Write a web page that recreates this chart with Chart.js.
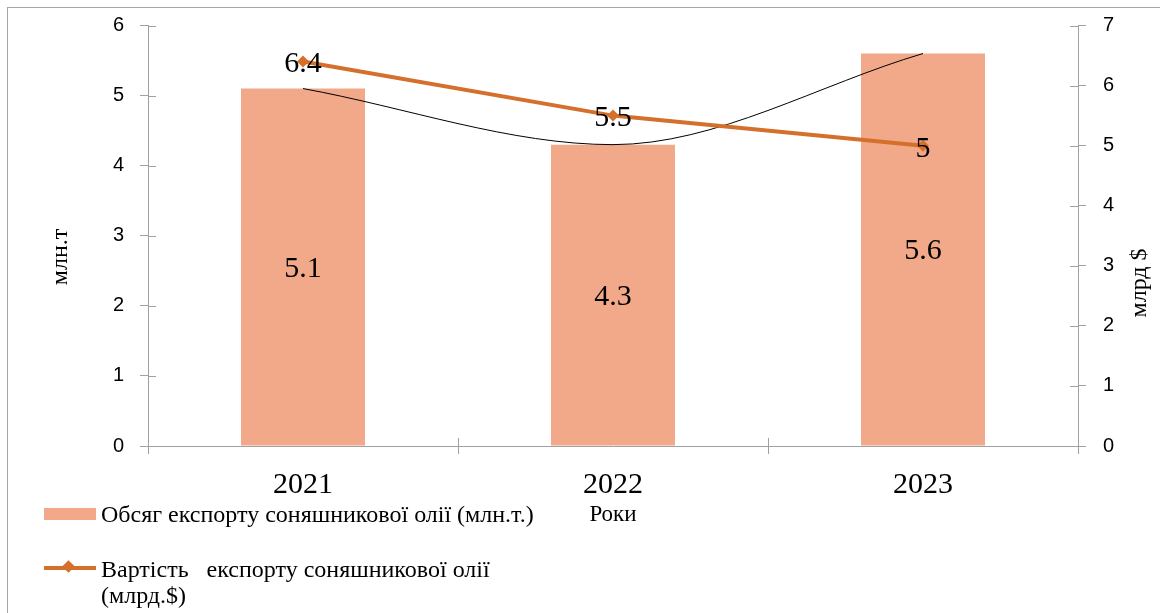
<!DOCTYPE html>
<html>
<head>
<meta charset="utf-8">
<script src="https://cdn.jsdelivr.net/npm/chart.js@4.4.1/dist/chart.umd.min.js"></script>
<style>
  html, body { margin: 0; padding: 0; background: #fff; }
  #wrap { position: relative; width: 1160px; height: 613px; overflow: hidden; }
  #frame { position: absolute; left: 7px; top: 7px; width: 1200px; height: 700px; border: 1.5px solid #A6A6A6; box-sizing: border-box; }
  canvas { position: absolute; left: 0; top: 0; }
  #legend { position: absolute; left: 0; top: 0; font-family: "Liberation Serif", "Times New Roman", serif; font-size: 24px; color: #000; }
  .item { position: absolute; left: 44px; }
  .txt { position: absolute; left: 57px; white-space: pre-wrap; line-height: 26px; }
</style>
</head>
<body>
<div id="wrap">
  <div id="frame"></div>
  <canvas id="c" width="1160" height="613"></canvas>
  <div id="legend"></div>
</div>
<script>
const years = ['2021', '2022', '2023'];
const volume = [5.1, 4.3, 5.6];          // млн.т
const value = [6.4, 5.5, 5];             // млрд $
const leftTicks = [0, 1, 2, 3, 4, 5, 6];
const rightTicks = [0, 1, 2, 3, 4, 5, 6, 7];
const volumeLabel = 'Обсяг експорту соняшникової олії (млн.т.)';
const valueLabel = 'Вартість   експорту соняшникової олії (млрд.$)';
const xTitle = 'Роки';
const yTitle = 'млн.т';
const y1Title = 'млрд $';

const BAR = '#F1A98A';
const LINE = '#D4702C';
const AXIS = '#A0A0A0';
const SERIF = '"Liberation Serif", "Times New Roman", serif';
const SANS = '"Liberation Sans", Arial, sans-serif';

const labelsPlugin = {
  id: 'valueLabels',
  beforeDatasetsDraw(chart) {
    // inner half of the crossing tick marks
    const ctx = chart.ctx;
    ctx.save();
    ctx.strokeStyle = AXIS;
    ctx.lineWidth = 1;
    const y = chart.scales.y, y1 = chart.scales.y1, x = chart.scales.x;
    ctx.beginPath();
    y.ticks.forEach(t => { const p = Math.round(y.getPixelForValue(t.value)) + 0.5; ctx.moveTo(y.right, p); ctx.lineTo(y.right + 8, p); });
    y1.ticks.forEach(t => { const p = Math.round(y1.getPixelForValue(t.value)) + 0.5; ctx.moveTo(y1.left, p); ctx.lineTo(y1.left - 8, p); });
    for (let i = 0; i <= years.length; i++) {
      const p = Math.round(x.getPixelForTick(0) + (i - 0.5) * (x.getPixelForTick(1) - x.getPixelForTick(0))) + 0.5;
      ctx.moveTo(p, x.top); ctx.lineTo(p, x.top - 8);
    }
    ctx.stroke();

    // vertical axis titles (both read bottom-to-top)
    ctx.fillStyle = '#000';
    ctx.font = '24px ' + SERIF;
    ctx.textAlign = 'center';
    ctx.textBaseline = 'middle';
    ctx.save();
    ctx.translate(61, 257);
    ctx.rotate(-Math.PI / 2);
    ctx.fillText(yTitle, 0, 0);
    ctx.restore();
    ctx.save();
    ctx.translate(1140, 283);
    ctx.rotate(-Math.PI / 2);
    ctx.fillText(y1Title, 0, 0);
    ctx.restore();
    ctx.restore();
  },
  afterDatasetsDraw(chart) {
    const ctx = chart.ctx;
    ctx.save();
    ctx.fillStyle = '#000';
    ctx.font = '30px ' + SERIF;
    ctx.textAlign = 'center';
    ctx.textBaseline = 'middle';
    chart.getDatasetMeta(0).data.forEach((bar, i) => {
      ctx.fillText(String(volume[i]), bar.x, (bar.y + bar.base) / 2 + 2);
    });
    chart.getDatasetMeta(2).data.forEach((pt, i) => {
      ctx.fillText(String(value[i]), pt.x, pt.y + 3);
    });
    ctx.restore();
  }
};

const chart = new Chart(document.getElementById('c'), {
  type: 'bar',
  data: {
    labels: years,
    datasets: [
      {
        type: 'bar', label: volumeLabel, data: volume, yAxisID: 'y',
        backgroundColor: BAR, borderWidth: 0,
        barPercentage: 0.4, categoryPercentage: 1.0, order: 3
      },
      {
        type: 'line', label: 'trend', data: volume, yAxisID: 'y',
        borderColor: '#000', borderWidth: 1, cubicInterpolationMode: 'monotone',
        pointRadius: 0, fill: false, order: 2
      },
      {
        type: 'line', label: valueLabel, data: value, yAxisID: 'y1',
        borderColor: LINE, backgroundColor: LINE, borderWidth: 4,
        pointStyle: 'rectRot', pointRadius: 6, pointBorderWidth: 0,
        pointBackgroundColor: LINE, tension: 0, fill: false, order: 1
      }
    ]
  },
  options: {
    responsive: false,
    animation: false,
    layout: { padding: { top: 20, left: 0, right: 0, bottom: 77 } },
    plugins: { legend: { display: false }, tooltip: { enabled: false } },
    scales: {
      x: {
        offset: true,
        grid: { offset: true, drawOnChartArea: false, drawTicks: true, tickLength: 8, color: AXIS },
        border: { display: true, color: AXIS },
        ticks: { color: '#000', font: { family: SERIF, size: 30 }, padding: 13 },
        title: { display: true, text: xTitle, color: '#000', font: { family: SERIF, size: 23 }, padding: { top: 0, bottom: 7 } },
        afterFit(s) { s.height = 90; }
      },
      y: {
        position: 'left', min: 0, max: 6,
        afterBuildTicks(s) { s.ticks = leftTicks.map(v => ({ value: v })); },
        grid: { drawOnChartArea: false, drawTicks: true, tickLength: 8, color: AXIS },
        border: { display: true, color: AXIS },
        ticks: { color: '#000', font: { family: SANS, size: 20, lineHeight: 0.85 }, padding: 16 },
        title: { display: false, text: yTitle },
        afterFit(s) { s.width = 148; }
      },
      y1: {
        position: 'right', min: 0, max: 7,
        afterBuildTicks(s) { s.ticks = rightTicks.map(v => ({ value: v })); },
        grid: { drawOnChartArea: false, drawTicks: true, tickLength: 8, color: AXIS },
        border: { display: true, color: AXIS },
        ticks: { color: '#000', font: { family: SANS, size: 20, lineHeight: 0.85 }, padding: 17 },
        title: { display: false, text: y1Title },
        afterFit(s) { s.width = 82; }
      }
    }
  },
  plugins: [labelsPlugin]
});

// HTML legend built from the datasets
(function buildLegend() {
  const lg = document.getElementById('legend');
  const tops = [501, 556];
  const widths = ['nowrap', '450px'];
  chart.data.datasets.filter(d => d.label !== 'trend').forEach((d, i) => {
    const item = document.createElement('div');
    item.className = 'item';
    item.style.top = tops[i] + 'px';
    const sym = document.createElement('div');
    sym.style.position = 'relative';
    sym.style.width = '52px';
    sym.style.height = '26px';
    if (d.type === 'bar') {
      sym.innerHTML = '<div style="position:absolute;left:0;top:7px;width:52px;height:12px;background:' + d.backgroundColor + '"></div>';
    } else {
      sym.innerHTML = '<div style="position:absolute;left:0;top:10px;width:52px;height:4px;background:' + d.borderColor + '"></div>' +
        '<div style="position:absolute;left:20px;top:6px;width:9px;height:9px;transform:rotate(45deg);background:' + d.borderColor + '"></div>';
    }
    const txt = document.createElement('div');
    txt.className = 'txt';
    txt.style.top = '0px';
    if (widths[i] === 'nowrap') { txt.style.whiteSpace = 'pre'; } else { txt.style.width = widths[i]; }
    txt.textContent = d.label;
    item.appendChild(sym);
    item.appendChild(txt);
    lg.appendChild(item);
  });
})();
</script>
</body>
</html>
